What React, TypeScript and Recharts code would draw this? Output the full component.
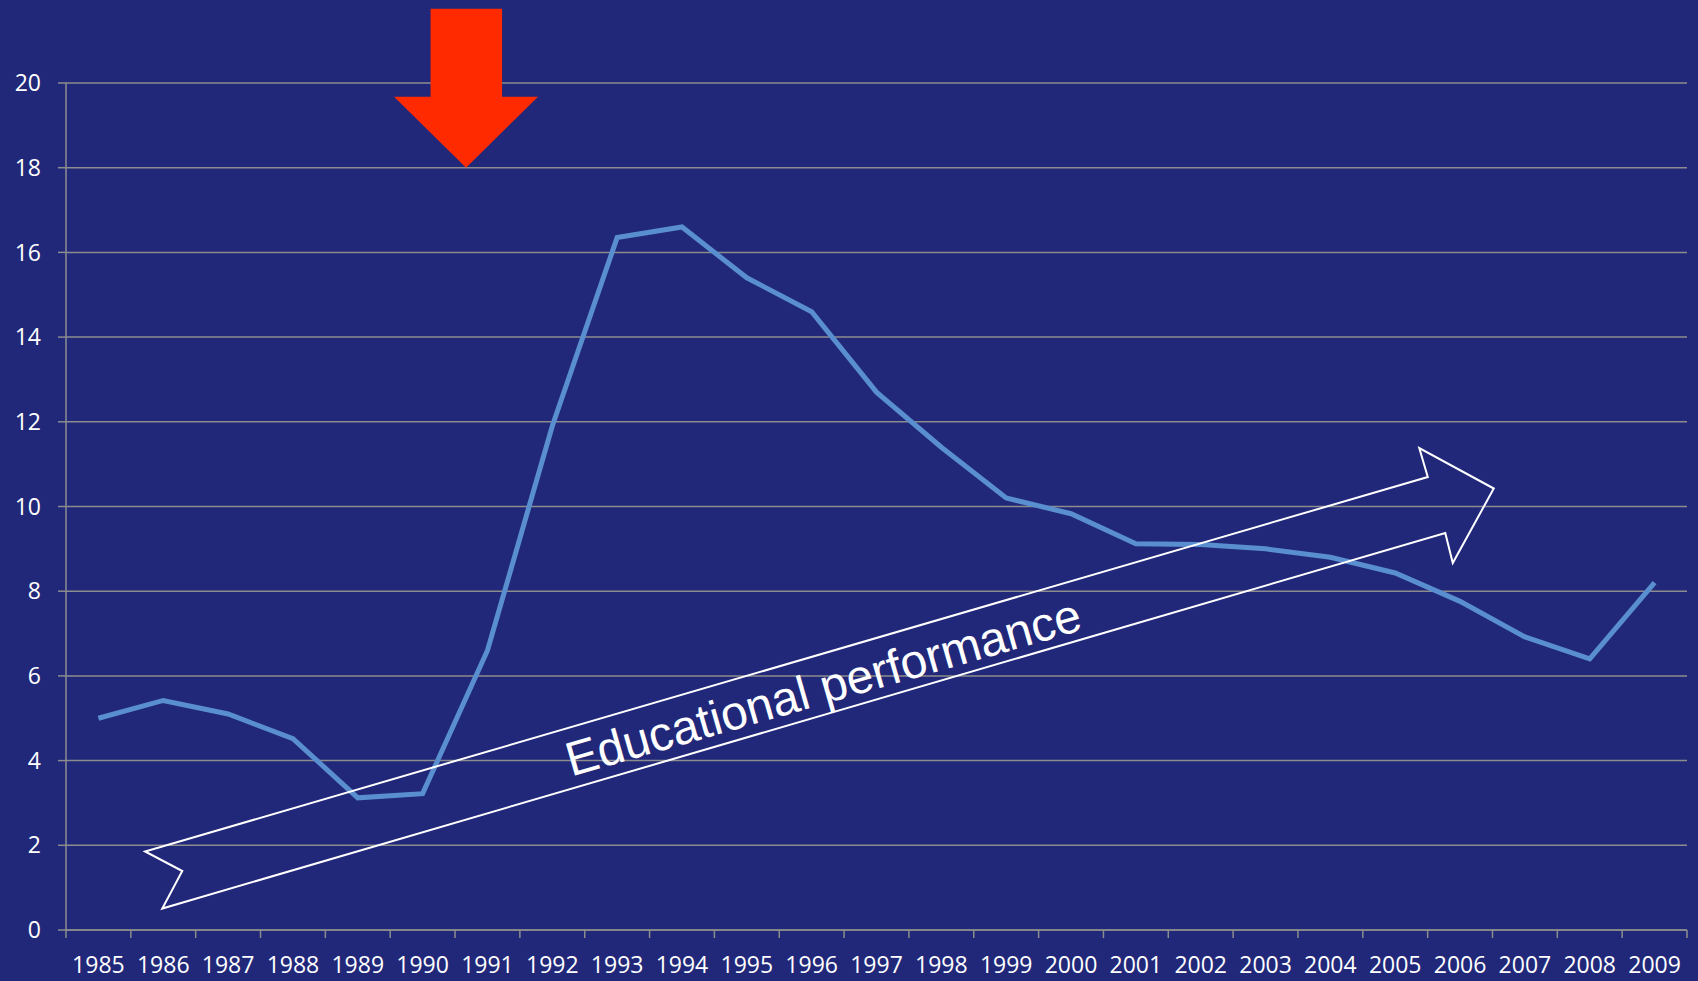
import React from "react";
import { LineChart, Line, XAxis, YAxis, CartesianGrid, ReferenceLine, ReferenceDot } from "recharts";

const years = [1985,1986,1987,1988,1989,1990,1991,1992,1993,1994,1995,1996,1997,1998,1999,2000,2001,2002,2003,2004,2005,2006,2007,2008,2009];
const values = [5.0,5.42,5.1,4.52,3.12,3.22,6.6,11.9,16.35,16.6,15.4,14.6,12.7,11.4,10.2,9.83,9.12,9.1,9.0,8.8,8.43,7.76,6.92,6.4,8.2];
const yTicks = [0,2,4,6,8,10,12,14,16,18,20];
const boundaries = [1984.5,1985.5,1986.5,1987.5,1988.5,1989.5,1990.5,1991.5,1992.5,1993.5,1994.5,1995.5,1996.5,1997.5,1998.5,1999.5,2000.5,2001.5,2002.5,2003.5,2004.5,2005.5,2006.5,2007.5,2008.5,2009.5];
const annotationText = "Educational performance";

const data = years.map((y, i) => ({ year: y, value: values[i] }));

const BG = "#21287a";
const GRID = "#8c8c8c";
const LINE = "#5a8fcf";
const FONT = "'Open Sans', 'Noto Sans', sans-serif";

const XTick = (props: any) => {
  const { x, y, payload } = props;
  return (
    <text x={x} y={y} dy="0.71em" textAnchor="middle" fill="#ffffff" fontSize={23} fontFamily={FONT}>
      {payload.value}
    </text>
  );
};

const RedArrow = (props: any) => {
  const { cx, cy } = props;
  const pts = [
    [0, 0], [-72, -71], [-35.5, -71], [-35.5, -159], [36, -159], [36, -71], [72, -71],
  ].map(([dx, dy]) => `${cx + dx},${cy + dy}`).join(" ");
  return <polygon points={pts} fill="#ff2a00" stroke="none" />;
};

const WhiteArrow = (props: any) => {
  const { cx, cy } = props;
  const pts = [
    [0, 0], [-74.5, -40.5], [-66, -11.5], [-1348.7, 363], [-1311.5, 382.5], [-1331.5, 420], [-48.5, 44.5], [-41, 74.5],
  ].map(([dx, dy]) => `${cx + dx},${cy + dy}`).join(" ");
  const tx = cx - 666;
  const ty = cy + 214.5;
  return (
    <g>
      <polygon points={pts} fill="none" stroke="#ffffff" strokeWidth={2} strokeLinejoin="miter" />
      <text
        x={tx}
        y={ty}
        textAnchor="middle"
        fill="#ffffff"
        fontSize={48}
        fontFamily="'Liberation Sans', Arial, sans-serif"
        transform={`rotate(-16 ${tx} ${ty})`}
      >
        {annotationText}
      </text>
    </g>
  );
};

export default function App() {
  return (
    <div style={{ position: "absolute", left: 0, top: 0, width: 1698, height: 981, background: BG }}>
      <LineChart width={1698} height={981} data={data} margin={{ top: 83, right: 11, bottom: 0, left: 0 }}>
        <CartesianGrid horizontal={true} vertical={false} stroke={GRID} strokeWidth={1.5} />
        <XAxis
          dataKey="year"
          type="number"
          domain={[1984.5, 2009.5]}
          ticks={years}
          interval={0}
          height={51}
          axisLine={{ stroke: GRID, strokeWidth: 1.5 }}
          tickLine={false}
          tickSize={8}
          tickMargin={19}
          tick={<XTick />}
        />
        <YAxis
          type="number"
          domain={[0, 20]}
          ticks={yTicks}
          interval={0}
          width={66}
          axisLine={{ stroke: GRID, strokeWidth: 1.5 }}
          tickLine={{ stroke: GRID, strokeWidth: 1.5 }}
          tickSize={8}
          tickMargin={17}
          tick={{ fill: "#ffffff", fontSize: 23, fontFamily: FONT }}
        />
        {boundaries.map((b) => (
          <ReferenceLine
            key={b}
            segment={[{ x: b, y: 0 }, { x: b, y: -0.19 }]}
            stroke={GRID}
            strokeWidth={1.5}
            ifOverflow="visible"
          />
        ))}
        <Line
          type="linear"
          dataKey="value"
          stroke={LINE}
          strokeWidth={5}
          dot={false}
          isAnimationActive={false}
        />
        <ReferenceDot x={1990.67} y={18} r={0} ifOverflow="visible" shape={<RedArrow />} />
        <ReferenceDot x={2006.52} y={10.425} r={0} ifOverflow="visible" shape={<WhiteArrow />} />
      </LineChart>
    </div>
  );
}
